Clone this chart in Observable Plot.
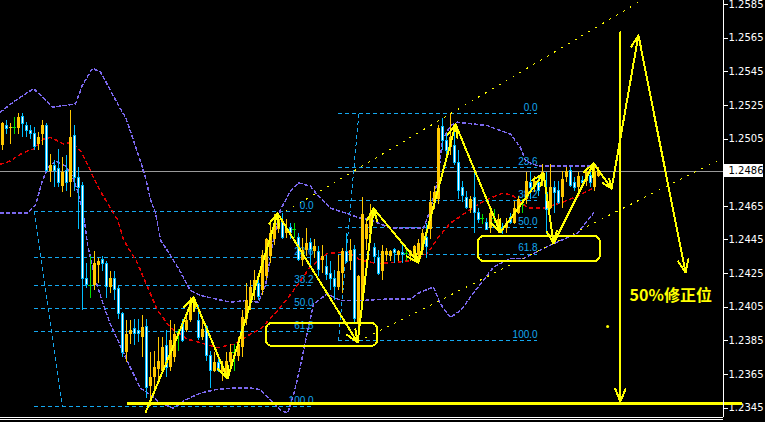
<!DOCTYPE html>
<html><head><meta charset="utf-8">
<script src="https://cdn.jsdelivr.net/npm/d3@7"></script>
<script src="https://cdn.jsdelivr.net/npm/@observablehq/plot@0.6"></script>
<style>
html,body{margin:0;padding:0;background:#000;}
#chart svg{display:block}
#chart svg line, #chart svg rect, #chart svg path{shape-rendering:crispEdges;}
</style></head><body><div id="chart"></div>
<script>
// prices stored in points (1 point = 0.0001)
const PT = 1e-4;
const opens = [12501,12513,12511,12512,12511,12518,12513,12510,12508,12502,
12508,12513,12486,12489,12487,12477,12486,12479,12507,12482,
12477,12422,12418,12418,12430,12433,12431,12417,12422,12416,
12401,12378,12389,12392,12391,12387,12393,12358,12363,12368,
12367,12382,12369,12375,12390,12395,12391,12397,12404,12397,
12387,12393,12376,12367,12372,12366,12366,12372,12378,12376,
12381,12398,12407,12415,12419,12415,12423,12435,12445,12451,
12455,12449,12452,12451,12446,12433,12439,12443,12438,12438,
12433,12429,12425,12422,12417,12425,12438,12432,12439,12395,
12409,12445,12449,12440,12434,12426,12436,12435,12439,12436,
12437,12437,12435,12435,12436,12439,12446,12451,12467,12469,
12512,12504,12500,12501,12491,12476,12470,12464,12470,12461,
12458,12455,12452,12458,12452,12452,12452,12458,12455,12461,
12466,12469,12479,12476,12479,12480,12473,12464,12476,12474,
12470,12482,12486,12479,12476,12480,12480,12483,12476,12483];
const highs = [12515,12516,12514,12518,12520,12520,12515,12513,12512,12509,
12516,12514,12496,12492,12499,12494,12495,12522,12513,12488,
12479,12431,12435,12438,12434,12435,12432,12426,12426,12418,
12402,12397,12397,12398,12398,12400,12398,12378,12379,12387,
12387,12391,12397,12395,12392,12398,12402,12411,12411,12406,
12397,12394,12379,12378,12375,12373,12378,12383,12383,12387,
12403,12419,12421,12427,12424,12439,12446,12455,12460,12461,
12461,12457,12455,12455,12449,12446,12452,12446,12445,12441,
12442,12436,12432,12427,12436,12440,12449,12445,12442,12424,
12470,12457,12466,12443,12439,12442,12440,12439,12440,12439,
12443,12439,12439,12442,12445,12451,12455,12474,12477,12513,
12517,12508,12520,12510,12498,12480,12474,12471,12485,12464,
12460,12458,12463,12463,12460,12455,12458,12461,12468,12471,
12469,12485,12486,12483,12483,12490,12485,12490,12480,12480,
12486,12488,12488,12482,12485,12483,12486,12486,12489,12488];
const lows = [12498,12508,12502,12508,12508,12506,12506,12505,12498,12498,
12501,12485,12479,12476,12476,12473,12474,12470,12474,12451,
12403,12416,12410,12415,12419,12426,12410,12413,12409,12398,
12375,12372,12383,12382,12384,12375,12351,12346,12354,12360,
12366,12363,12367,12372,12379,12384,12390,12396,12402,12385,
12385,12373,12357,12366,12366,12361,12363,12367,12367,12373,
12375,12394,12403,12409,12409,12412,12421,12431,12442,12449,
12445,12446,12445,12446,12432,12429,12435,12430,12434,12423,
12425,12421,12415,12409,12415,12413,12431,12427,12395,12384,
12406,12439,12445,12431,12424,12421,12432,12432,12431,12432,
12431,12432,12432,12432,12434,12436,12434,12445,12463,12466,
12498,12496,12495,12489,12469,12467,12463,12461,12449,12455,
12454,12451,12449,12455,12449,12448,12449,12454,12454,12460,
12461,12466,12469,12473,12471,12477,12448,12463,12461,12466,
12464,12479,12476,12474,12474,12476,12477,12476,12474,12482];
const closes = [12514,12511,12512,12512,12518,12514,12510,12508,12500,12506,
12513,12486,12489,12486,12479,12485,12479,12506,12482,12476,
12422,12418,12418,12431,12432,12431,12417,12422,12415,12401,
12378,12389,12391,12389,12389,12393,12357,12363,12369,12373,
12381,12369,12385,12389,12390,12385,12397,12407,12409,12387,
12392,12376,12367,12372,12367,12369,12373,12378,12378,12383,
12399,12409,12417,12421,12411,12436,12445,12449,12455,12457,
12446,12452,12449,12451,12433,12439,12443,12439,12441,12427,
12435,12424,12422,12417,12426,12438,12432,12439,12398,12423,
12460,12454,12461,12435,12425,12438,12438,12438,12437,12438,
12436,12437,12438,12441,12443,12449,12441,12467,12473,12511,
12504,12498,12506,12491,12474,12471,12464,12469,12461,12457,
12458,12451,12461,12458,12457,12451,12455,12455,12464,12469,
12466,12480,12476,12480,12474,12485,12463,12476,12473,12467,
12481,12486,12477,12476,12483,12479,12485,12479,12486,12486];

// Bollinger bands (bar index, points)
const upperBar = [-0.6,3.2,7.7,10.7,12.4,15.7,18.2,19.9,22.4,24.4,26.9,28.9,30.7,32.7,34.4,35.9,36.9,38.2,39.4,41.9,44.4,46.9,49.4,53.2,56.9,60.7,63.9,65.7,67.4,69.4,71.9,73.9,76.9,78.9,81.9,85.7,89.4,91.9,96.9,105.2,106.9,108.7,109.9,111.9,113.7,121.2,124.4,126.9,129.4,130.7,133.7,140.2,146.2,148.9];
const upperPts = [12521,12528,12535,12528,12524,12525,12526,12537,12547,12545,12534,12525,12518,12504,12492,12480,12469,12461,12445,12436,12426,12415,12412,12410,12408,12409,12408,12418,12442,12463,12474,12479,12477,12471,12464,12461,12458,12457,12452,12452,12463,12480,12504,12513,12515,12513,12510,12508,12500,12492,12489,12489,12489,12489];
const lowerBar = [-0.6,6.2,8.2,9.9,11.2,13.2,15.7,17.4,18.7,20.2,21.2,23.2,25.2,26.9,29.4,31.9,34.4,36.9,39.4,42.7,45.7,49.4,53.2,57.7,61.9,64.4,66.9,69.4,71.2,72.7,74.4,76.2,77.7,79.4,81.2,84.4,89.4,96.9,101.9,104.4,107.7,109.4,111.9,114.4,118.2,122.7,126.9,130.2,136.9,143.7,147.7];
const lowerPts = [12461,12461,12466,12480,12488,12492,12489,12483,12474,12460,12442,12421,12406,12395,12382,12369,12357,12353,12348,12345,12350,12354,12356,12357,12357,12356,12350,12344,12342,12353,12370,12391,12407,12410,12413,12409,12409,12410,12410,12414,12417,12407,12399,12403,12415,12429,12434,12434,12442,12449,12461];
const midBar = [-0.6,1.9,4.4,6.2,7.7,10.2,11.9,13.7,15.2,16.9,18.2,19.4,21.2,22.7,24.4,26.9,28.7,30.2,33.7,36.2,38.7,41.9,46.2,49.4,53.7,57.7,61.9,64.4,68.7,72.7,76.9,81.2,86.2,89.4,93.7,99.4,102.7,106.2,108.7,111.9,116.2,119.4,121.9,125.2,127.7,131.2,135.2,139.4,143.7,147.7];
const midPts = [12490,12492,12496,12498,12499,12505,12506,12504,12502,12503,12501,12498,12490,12482,12474,12464,12457,12445,12431,12417,12403,12393,12386,12384,12381,12383,12389,12392,12403,12415,12429,12437,12438,12433,12431,12432,12433,12437,12446,12455,12462,12467,12470,12473,12471,12464,12464,12467,12471,12476];

// Fibonacci retracements
const fibRatios = [0, 0.236, 0.382, 0.5, 0.618, 1];
const fibLabels = ["0.0", "23.6", "38.2", "50.0", "61.8", "100.0"];
const fib1 = {start: 7.9, end: 77.7, hi: 12462, lo: 12346, diagHiBar: 7.9, diagLoBar: 14.9};
const fib2 = {start: 83.9, end: 133.7, hi: 12520, lo: 12385, diagHiBar: 89.0, diagLoBar: 83.9};

// hand-drawn annotations (bar index, points)
const zigBar = [35.7,47.7,56.2,68.7,88.7,92.7,103.9,113.2,124.4,135.2,137.7,147.7,152.2,158.9,170.7];
const zigPts = [12342.5,12410.8,12362.7,12460.8,12384.1,12463.7,12431.6,12513.7,12449.5,12484.6,12443.0,12490.5,12475.6,12566.6,12425.7];
const channelBar = [[70.7, 159.4], [88.9, 179.4]];
const channelPts = [[12462, 12587], [12384.7, 12493]];
const vertBar = 154.4, vertPts = [12568.4, 12349];
const baseLinePts = 12348, baseLineBars = [31.2, 184.9];
const boxBars = [[65.9, 93.7], [118.9, 149.4]];
const boxPts = [[12381.7, 12395.4], [12432.2, 12447.1]];
const noteText = "50%修正位", noteBar = 156.7, notePts = 12412;
const dotBar = 151.2, dotPts = 12393.6;
const currentPrice = 1.2486;
const yTicks = [1.2345,1.2365,1.2385,1.2405,1.2425,1.2445,1.2465,1.2505,1.2525,1.2545,1.2565,1.2585];

const xMin = -0.575, xMax = 180.175, yMin = 1.233947, yMax = 1.258738;
const BULL = "#FFC800", BEAR = "#00BFFF", DOJI = "#00E000", FIB = "#14A8F0", BAND = "#7B68EE", MID = "#E00000", YEL = "#FFFF00";

const candles = opens.map((o, i) => ({i, o: o*PT, h: highs[i]*PT, l: lows[i]*PT, c: closes[i]*PT}));
const bulls = candles.filter(d => d.c > d.o), bears = candles.filter(d => d.c < d.o), dojis = candles.filter(d => d.c === d.o);
const band = (bx, py) => bx.map((b, k) => ({b, p: py[k]*PT}));
const fibRows = f => fibRatios.map((r, k) => ({p: (f.hi - r*(f.hi - f.lo))*PT, label: fibLabels[k], start: f.start, end: f.end}));
const fibs = [...fibRows(fib1), ...fibRows(fib2)];
const fibDiag = [fib1, fib2].map(f => ({x1: f.diagHiBar, y1: f.hi*PT, x2: f.diagLoBar, y2: f.lo*PT}));
const zig = zigBar.slice(1).map((b, k) => ({x1: zigBar[k], y1: zigPts[k]*PT, x2: b, y2: zigPts[k+1]*PT}));
const channels = channelBar.map((b, k) => ({x1: b[0], x2: b[1], y1: channelPts[k][0]*PT, y2: channelPts[k][1]*PT}));
const boxes = boxBars.map((b, k) => ({x1: b[0], x2: b[1], y1: boxPts[k][0]*PT, y2: boxPts[k][1]*PT}));

const chart = Plot.plot({
  width: 765, height: 422,
  marginLeft: 0, marginRight: 42, marginTop: 0, marginBottom: 5,
  style: {background: "#000", color: "#fff", fontFamily: "DejaVu Sans", fontSize: "10px", overflow: "visible"},
  x: {domain: [xMin, xMax], axis: null},
  y: {domain: [yMin, yMax], axis: "right", ticks: yTicks, tickFormat: d3.format(".4f"), tickSize: 4, tickPadding: 1, label: null},
  marks: [
    Plot.ruleY([currentPrice], {x1: xMin, x2: xMax, stroke: "#9a9a9a"}),
    Plot.ruleY(fibs, {y: "p", x1: "start", x2: "end", stroke: FIB, strokeDasharray: "4,3"}),
    Plot.link(fibDiag, {x1: "x1", y1: "y1", x2: "x2", y2: "y2", stroke: FIB, strokeDasharray: "4,3"}),
    Plot.text(fibs, {x: "end", y: "p", text: "label", textAnchor: "end", dy: -6, fill: FIB, fontSize: 10, fontFamily: "Liberation Sans"}),
    Plot.line(band(upperBar, upperPts), {x: "b", y: "p", stroke: BAND, strokeDasharray: "3,3"}),
    Plot.line(band(lowerBar, lowerPts), {x: "b", y: "p", stroke: BAND, strokeDasharray: "3,3"}),
    Plot.line(band(midBar, midPts), {x: "b", y: "p", stroke: MID, strokeDasharray: "3,4"}),
    Plot.link(channels, {x1: "x1", y1: "y1", x2: "x2", y2: "y2", stroke: YEL, strokeDasharray: "2,6"}),
    Plot.ruleX(bulls, {x: "i", y1: "l", y2: "h", stroke: BULL}),
    Plot.ruleX(bears, {x: "i", y1: "l", y2: "h", stroke: BEAR}),
    Plot.ruleX(dojis, {x: "i", y1: "l", y2: "h", stroke: DOJI}),
    Plot.rect(bulls, {x1: d => d.i - 0.375, x2: d => d.i + 0.375, y1: "o", y2: "c", fill: BULL}),
    Plot.rect(bears, {x1: d => d.i - 0.25, x2: d => d.i + 0.25, y1: "o", y2: "c", fill: "#fff", stroke: BEAR}),
    Plot.ruleY(dojis, {y: "o", x1: d => d.i - 0.5, x2: d => d.i + 0.5, stroke: DOJI}),
    Plot.ruleY([baseLinePts*PT], {x1: baseLineBars[0], x2: baseLineBars[1], stroke: YEL, strokeWidth: 3}),
    Plot.arrow(zig, {x1: "x1", y1: "y1", x2: "x2", y2: "y2", stroke: YEL, strokeWidth: 2, headLength: 10, headAngle: 45}),
    Plot.arrow([{x: vertBar}], {x1: "x", x2: "x", y1: vertPts[0]*PT, y2: vertPts[1]*PT, stroke: YEL, strokeWidth: 2, headLength: 10, headAngle: 45}),
    Plot.rect(boxes, {x1: "x1", x2: "x2", y1: "y1", y2: "y2", rx: 6, stroke: YEL, strokeWidth: 2, fill: "none"}),
    Plot.text([noteText], {x: noteBar, y: notePts*PT, text: d => d, textAnchor: "start", fill: YEL, fontSize: 16, fontWeight: "bold", fontFamily: "Noto Sans CJK SC"}),
    Plot.dot([dotBar], {x: d => d, y: dotPts*PT, r: 1.5, fill: YEL}),
    Plot.ruleX([xMax], {y1: yMin, y2: yMax, stroke: "#fff"}),
    Plot.ruleY([yMin], {x1: xMin, x2: xMax, stroke: "#fff"}),
    Plot.ruleY([yMin], {x1: xMin, x2: xMax, stroke: "#fff", dy: 2}),
    Plot.rect([currentPrice], {x1: xMax + 0.25, x2: xMax + 10, y1: d => d - 0.00037, y2: d => d + 0.00037, fill: "#fff"}),
    Plot.text([currentPrice], {x: xMax, y: d => d, dx: 5, text: d => d.toFixed(4), textAnchor: "start", fill: "#000", fontSize: 10})
  ]
});
document.getElementById("chart").appendChild(chart);
</script></body></html>
